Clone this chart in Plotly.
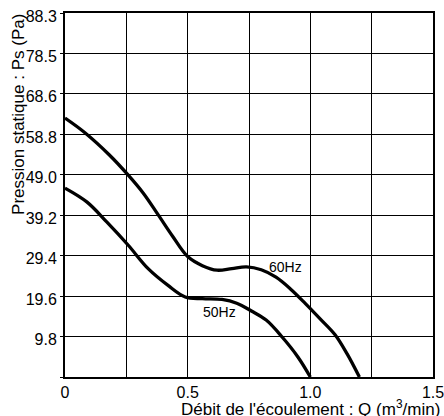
import plotly.graph_objects as go

# Static pressure curves of the fan, Q in m3/min, Ps in Pa
q_60hz = [0.0, 0.08, 0.18, 0.257, 0.32, 0.38, 0.44, 0.50, 0.56, 0.62, 0.68, 0.74,
          0.80, 0.86, 0.92, 0.98, 1.04, 1.10, 1.15, 1.20]
ps_60hz = [62.8, 59.3, 53.9, 49.0, 44.5, 39.3, 34.0, 29.2, 27.0, 25.9, 26.3, 26.7,
           26.0, 24.2, 21.3, 17.8, 14.1, 10.3, 5.6, 0.0]

q_50hz = [0.0, 0.09, 0.17, 0.257, 0.34, 0.42, 0.49, 0.56, 0.64, 0.70, 0.76, 0.82,
          0.885, 0.95, 1.00]
ps_50hz = [45.8, 42.4, 37.6, 32.0, 26.2, 22.2, 19.4, 19.0, 18.8, 17.9, 16.0, 13.8,
           9.7, 4.8, 0.0]

# Axis ticks (pressure grid in steps of 1 mmAq = 9.80665 Pa)
x_tickvals = [0, 0.25, 0.5, 0.75, 1.0, 1.25, 1.5]
x_ticktext = ["0", "", "0.5", "", "1.0", "", "1.5"]
y_tickvals = [k * 9.80665 for k in range(10)]
y_ticktext = ["", "9.8", "19.6", "29.4", "39.2", "49.0", "58.8", "68.6", "78.5", "88.3"]

font_family = "Liberation Sans, Arial, sans-serif"
narrow_family = "Liberation Sans Narrow, Arial Narrow, Liberation Sans, sans-serif"

fig = go.Figure()
for q, ps in ((q_60hz, ps_60hz), (q_50hz, ps_50hz)):
    fig.add_trace(go.Scatter(
        x=q, y=ps, mode="lines",
        line=dict(color="black", width=3.3, shape="spline", smoothing=1.0),
        hoverinfo="skip", showlegend=False,
    ))

fig.add_annotation(x=0.897, y=26.7, text="60Hz", showarrow=False,
                   font=dict(size=14, color="black", family=font_family))
fig.add_annotation(x=0.628, y=15.8, text="50Hz", showarrow=False,
                   font=dict(size=14, color="black", family=font_family))

# Axis titles
fig.add_annotation(xref="paper", yref="paper", x=1.025, y=-0.0852,
                   xanchor="right", yanchor="middle", showarrow=False,
                   text="Débit de l'écoulement : Q (m<sup>3</sup>/min)",
                   font=dict(size=17, color="black", family=font_family))
fig.add_annotation(xref="paper", yref="paper", x=-0.125, y=0.72,
                   xanchor="center", yanchor="middle", showarrow=False,
                   textangle=-90, text="Pression statique : Ps (Pa)",
                   font=dict(size=17, color="black", family=font_family))

fig.update_xaxes(
    range=[0, 1.5], tickvals=x_tickvals, ticktext=x_ticktext,
    showgrid=True, gridcolor="black", gridwidth=1.3, zeroline=False,
    showline=True, linecolor="black", linewidth=2, mirror=True,
    ticks="", automargin=False, ticklabeloverflow="allow",
    tickfont=dict(size=16, color="black", family=narrow_family),
)
fig.update_yaxes(
    range=[0, 9 * 9.80665], tickvals=y_tickvals, ticktext=y_ticktext,
    showgrid=True, gridcolor="black", gridwidth=1.3, zeroline=False,
    showline=True, linecolor="black", linewidth=2, mirror=True,
    ticks="outside", ticklen=3, tickcolor="black", tickwidth=1.3,
    ticklabelshift=3, automargin=False, ticklabeloverflow="allow",
    tickfont=dict(size=16, color="black", family=narrow_family),
)

fig.update_layout(
    width=444, height=416,
    margin=dict(l=65, r=11, t=13, b=39),
    paper_bgcolor="white", plot_bgcolor="white",
    font=dict(family=font_family, color="black"),
)

fig.write_html("out.html")
